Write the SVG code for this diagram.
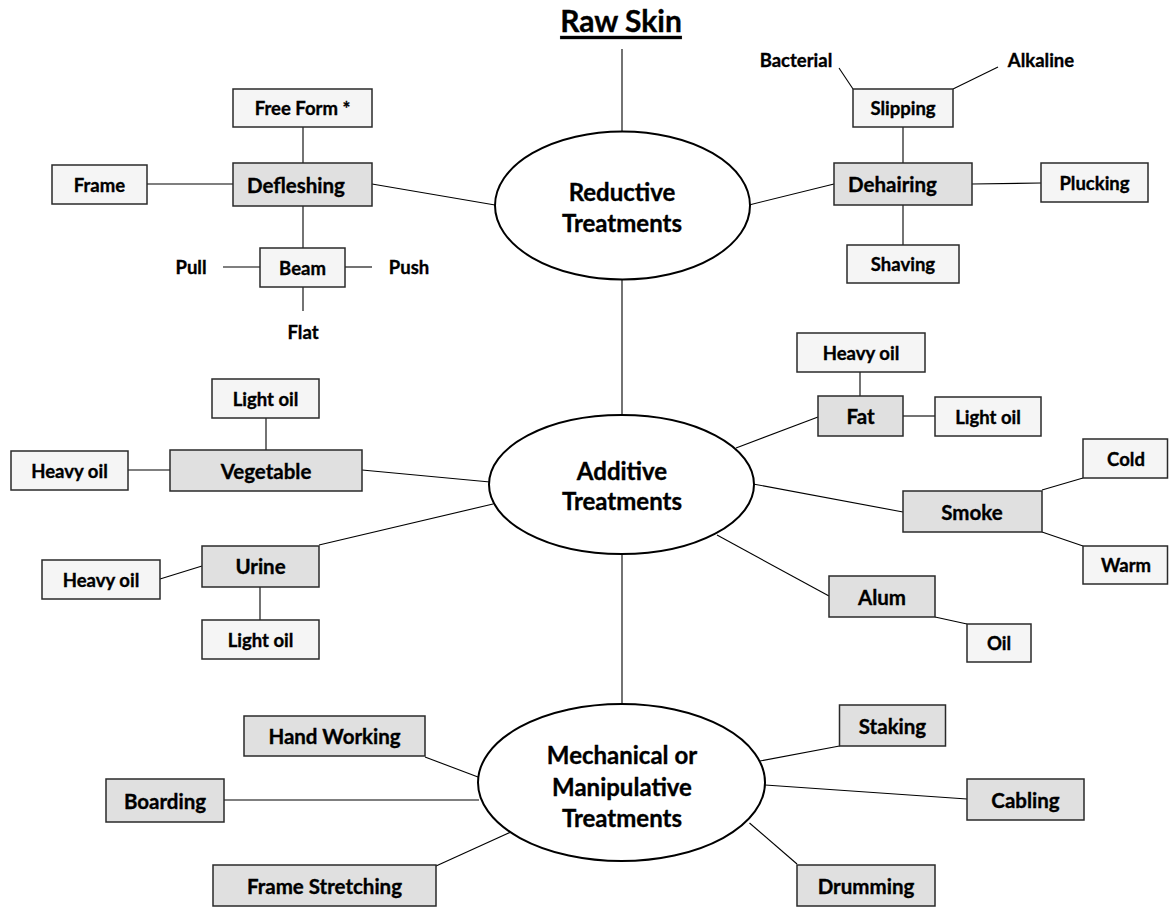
<svg xmlns="http://www.w3.org/2000/svg" width="1169" height="907" viewBox="0 0 1169 907">
  <style>
    text { font-family: "Lato", "Carlito", "Liberation Sans", sans-serif; font-weight: bold; fill: #000; stroke: #000; stroke-width: 0.35; text-anchor: middle; dominant-baseline: central; }
    .t20 { font-size: 18.5px; }
    .t22 { font-size: 20.5px; }
    .t26 { font-size: 24px; }
    .title { font-size: 30px; text-decoration: underline; }
    .lt { fill: #f5f5f5; stroke: #2a2a2a; stroke-width: 1.5; }
    .gy { fill: #e0e0e0; stroke: #2a2a2a; stroke-width: 1.5; }
    .ell { fill: #ffffff; stroke: #000; stroke-width: 2; }
    #connectors line { stroke: #000; stroke-width: 1.1; fill: none; }
  </style>
  <rect width="1169" height="907" fill="#ffffff"/>

  <!-- connectors -->
  <g id="connectors">
    <line x1="622" y1="49" x2="622" y2="131.5"/>
    <line x1="622" y1="279.5" x2="622" y2="415"/>
    <line x1="622" y1="554" x2="622" y2="704"/>
    <!-- reductive branch -->
    <line x1="372" y1="184" x2="495" y2="205"/>
    <line x1="303" y1="127" x2="303" y2="163"/>
    <line x1="147" y1="184" x2="233" y2="184"/>
    <line x1="303" y1="206" x2="303" y2="248"/>
    <line x1="223" y1="267" x2="260" y2="267"/>
    <line x1="345" y1="267" x2="372" y2="267"/>
    <line x1="303" y1="287" x2="303" y2="311"/>
    <line x1="749" y1="205" x2="834" y2="184"/>
    <line x1="903" y1="127" x2="903" y2="163"/>
    <line x1="839" y1="68" x2="853" y2="89"/>
    <line x1="998" y1="67" x2="953" y2="89"/>
    <line x1="972" y1="184" x2="1041" y2="183"/>
    <line x1="903" y1="205" x2="903" y2="245"/>
    <!-- additive branch -->
    <line x1="362" y1="470" x2="490" y2="482"/>
    <line x1="266" y1="418" x2="266" y2="450"/>
    <line x1="128" y1="470" x2="170" y2="470"/>
    <line x1="319" y1="545" x2="493" y2="504"/>
    <line x1="160" y1="579" x2="202" y2="566"/>
    <line x1="260" y1="587" x2="260" y2="620"/>
    <line x1="736" y1="448" x2="818" y2="417"/>
    <line x1="860" y1="372" x2="860" y2="396"/>
    <line x1="903" y1="416" x2="935" y2="416"/>
    <line x1="753" y1="484" x2="903" y2="512"/>
    <line x1="1042" y1="490" x2="1083" y2="478"/>
    <line x1="1042" y1="532" x2="1083" y2="546"/>
    <line x1="717" y1="535" x2="829" y2="596"/>
    <line x1="935" y1="617" x2="967" y2="624"/>
    <!-- mechanical branch -->
    <line x1="425" y1="757" x2="478" y2="777"/>
    <line x1="224" y1="800" x2="479" y2="800"/>
    <line x1="436" y1="866" x2="511" y2="832"/>
    <line x1="760" y1="761" x2="839.5" y2="746"/>
    <line x1="765" y1="785" x2="967" y2="799"/>
    <line x1="749.5" y1="823" x2="797" y2="864"/>
  </g>

  <g id="raw-skin"><text class="title" x="621" y="20">Raw Skin</text></g>

  <!-- central treatment ellipses -->
  <g id="reductive">
    <ellipse class="ell" cx="622.5" cy="205.5" rx="127.5" ry="74"/>
    <text class="t26" x="622" y="191">Reductive</text>
    <text class="t26" x="622" y="222">Treatments</text>
  </g>
  <g id="additive">
    <ellipse class="ell" cx="621.5" cy="484.5" rx="132.5" ry="69.5"/>
    <text class="t26" x="622" y="470">Additive</text>
    <text class="t26" x="622" y="500">Treatments</text>
  </g>
  <g id="mechanical">
    <ellipse class="ell" cx="621.5" cy="782.5" rx="143.5" ry="78.5"/>
    <text class="t26" x="622" y="754">Mechanical or</text>
    <text class="t26" x="622" y="786">Manipulative</text>
    <text class="t26" x="622" y="817">Treatments</text>
  </g>

  <!-- reductive sub-nodes -->
  <g id="defleshing"><rect class="gy" x="233" y="163" width="139" height="43"/><text class="t22" x="296" y="184.5">Defleshing</text></g>
  <g id="free-form"><rect class="lt" x="233" y="89" width="139" height="38"/><text class="t20" x="302.5" y="108">Free Form *</text></g>
  <g id="frame"><rect class="lt" x="52" y="165" width="95" height="39"/><text class="t20" x="99.5" y="184.5">Frame</text></g>
  <g id="beam"><rect class="lt" x="260" y="248" width="85" height="39"/><text class="t20" x="302.5" y="267.5">Beam</text></g>
  <g id="pull"><text class="t20" x="191" y="267">Pull</text></g>
  <g id="push"><text class="t20" x="409" y="267">Push</text></g>
  <g id="flat"><text class="t20" x="303" y="332">Flat</text></g>

  <g id="dehairing"><rect class="gy" x="834" y="163" width="138" height="42"/><text class="t22" x="892.5" y="184">Dehairing</text></g>
  <g id="slipping"><rect class="lt" x="853" y="89" width="100" height="38"/><text class="t20" x="903" y="108">Slipping</text></g>
  <g id="bacterial"><text class="t20" x="796" y="60">Bacterial</text></g>
  <g id="alkaline"><text class="t20" x="1041" y="60">Alkaline</text></g>
  <g id="plucking"><rect class="lt" x="1041" y="163" width="107" height="39"/><text class="t20" x="1094.5" y="182.5">Plucking</text></g>
  <g id="shaving"><rect class="lt" x="847" y="245" width="112" height="38"/><text class="t20" x="903" y="264">Shaving</text></g>

  <!-- additive sub-nodes -->
  <g id="vegetable"><rect class="gy" x="170" y="450" width="192" height="41"/><text class="t22" x="266" y="470.5">Vegetable</text></g>
  <g id="veg-light-oil"><rect class="lt" x="212" y="379" width="107" height="39"/><text class="t20" x="265.5" y="398.5">Light oil</text></g>
  <g id="veg-heavy-oil"><rect class="lt" x="11" y="451" width="117" height="39"/><text class="t20" x="69.5" y="470.5">Heavy oil</text></g>
  <g id="urine"><rect class="gy" x="202" y="546" width="117" height="41"/><text class="t22" x="260.5" y="566">Urine</text></g>
  <g id="urine-heavy-oil"><rect class="lt" x="42" y="560" width="118" height="39"/><text class="t20" x="101" y="579.5">Heavy oil</text></g>
  <g id="urine-light-oil"><rect class="lt" x="202" y="620" width="117" height="39"/><text class="t20" x="260.5" y="639.5">Light oil</text></g>
  <g id="fat"><rect class="gy" x="818" y="396" width="85" height="40"/><text class="t22" x="860.5" y="416">Fat</text></g>
  <g id="fat-heavy-oil"><rect class="lt" x="797" y="333" width="128" height="39"/><text class="t20" x="861" y="352.5">Heavy oil</text></g>
  <g id="fat-light-oil"><rect class="lt" x="935" y="397" width="106" height="39"/><text class="t20" x="988" y="416.5">Light oil</text></g>
  <g id="smoke"><rect class="gy" x="903" y="491" width="139" height="41"/><text class="t22" x="972" y="511.5">Smoke</text></g>
  <g id="cold"><rect class="lt" x="1083" y="439" width="84.5" height="39"/><text class="t20" x="1126" y="458.5">Cold</text></g>
  <g id="warm"><rect class="lt" x="1083" y="546" width="84.5" height="38"/><text class="t20" x="1126" y="565">Warm</text></g>
  <g id="alum"><rect class="gy" x="829" y="576" width="106" height="41"/><text class="t22" x="882" y="596.5">Alum</text></g>
  <g id="oil"><rect class="lt" x="967" y="624" width="64" height="38"/><text class="t20" x="999" y="643">Oil</text></g>

  <!-- mechanical sub-nodes -->
  <g id="hand-working"><rect class="gy" x="244" y="716" width="181" height="40"/><text class="t22" x="334.5" y="736">Hand Working</text></g>
  <g id="boarding"><rect class="gy" x="106" y="779" width="118" height="43"/><text class="t22" x="165" y="800.5">Boarding</text></g>
  <g id="frame-stretching"><rect class="gy" x="213" y="865" width="223" height="41"/><text class="t22" x="324.5" y="885.5">Frame Stretching</text></g>
  <g id="staking"><rect class="gy" x="839.5" y="705" width="106" height="41"/><text class="t22" x="892.5" y="725.5">Staking</text></g>
  <g id="cabling"><rect class="gy" x="967" y="779" width="117" height="41"/><text class="t22" x="1025.5" y="799.5">Cabling</text></g>
  <g id="drumming"><rect class="gy" x="797" y="865" width="138" height="41"/><text class="t22" x="866" y="885.5">Drumming</text></g>
</svg>
